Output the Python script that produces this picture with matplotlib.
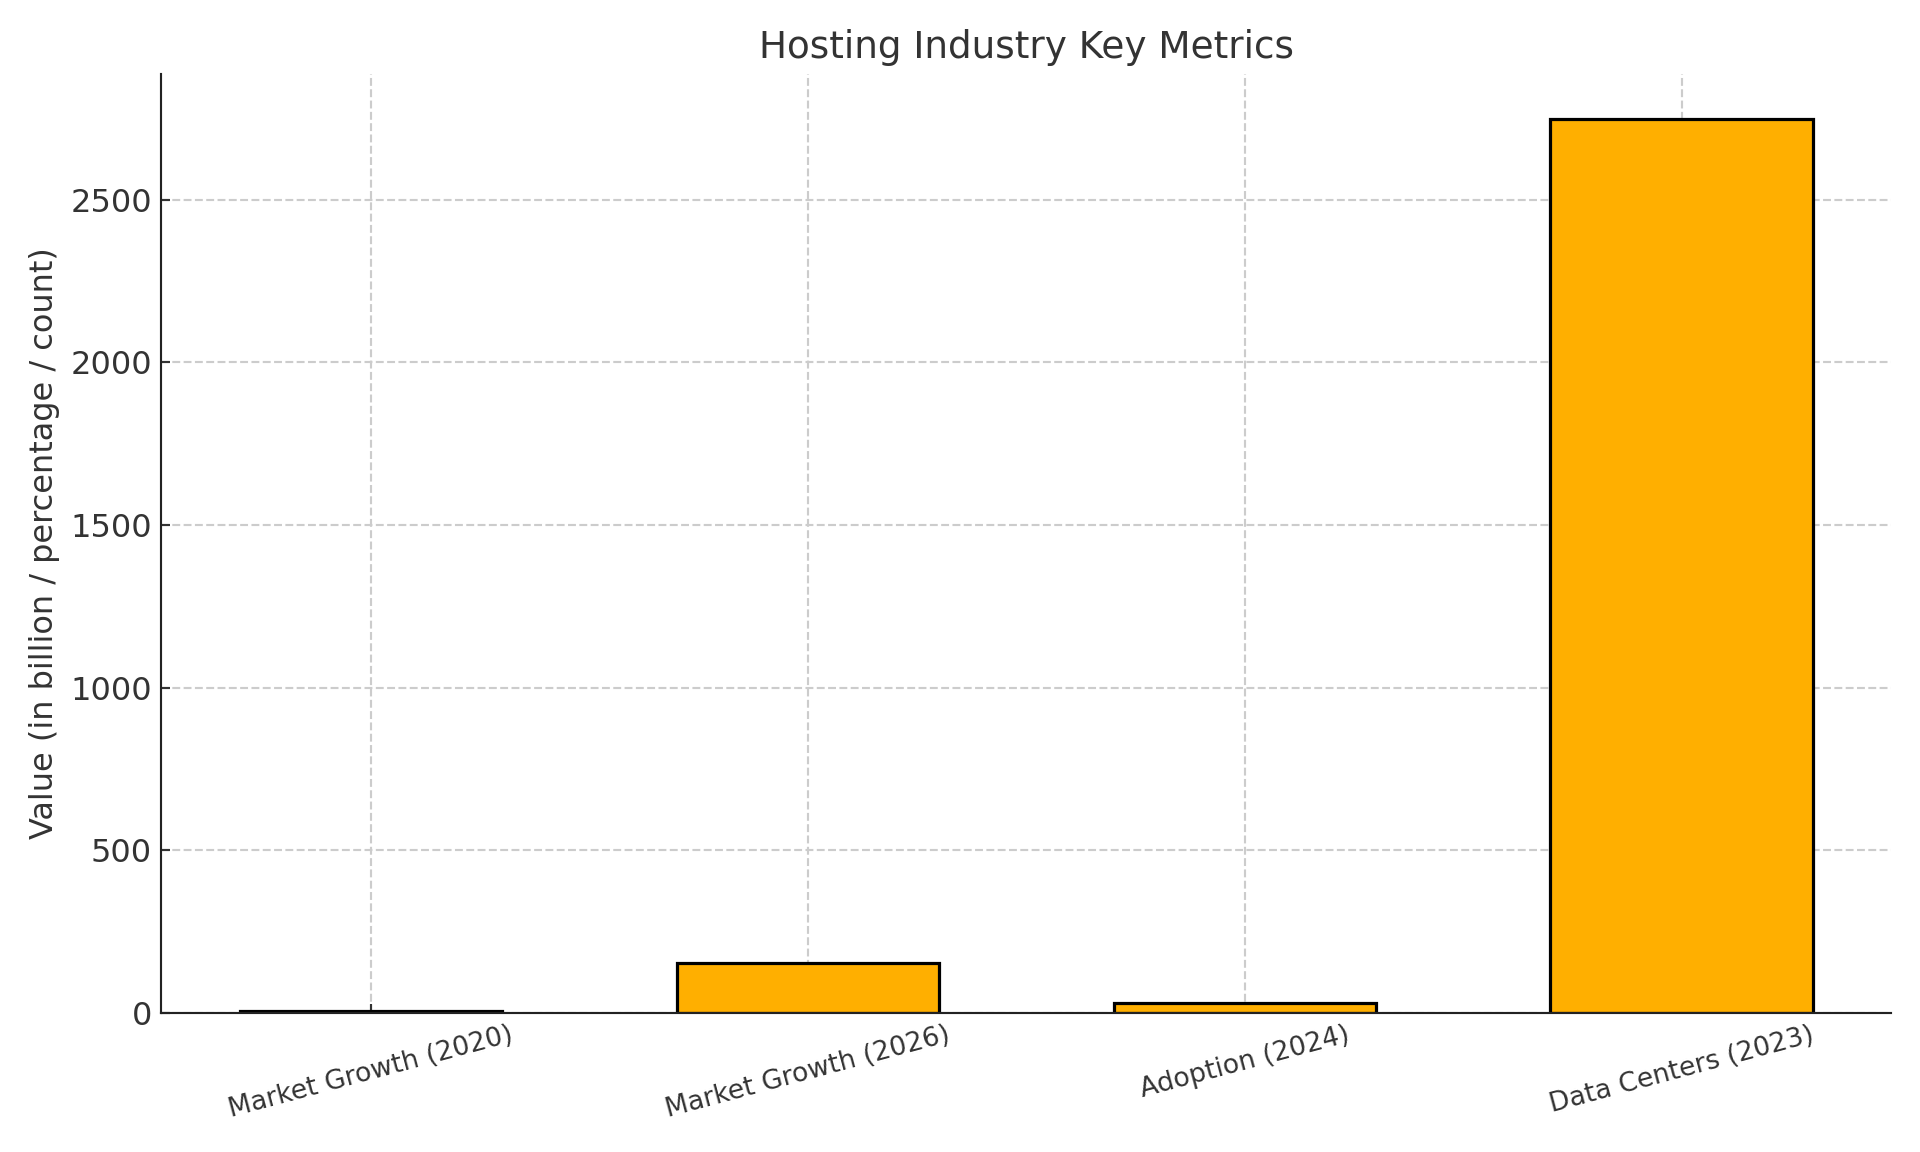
import matplotlib
matplotlib.use('Agg')
import matplotlib.pyplot as plt

categories = ['Market Growth (2020)', 'Market Growth (2026)', 'Adoption (2024)', 'Data Centers (2023)']
values = [5, 154, 30, 2750]

bar_color = '#FFAF00'
text_color = '#333333'

plt.rcParams['font.family'] = 'DejaVu Sans'

fig, ax = plt.subplots(figsize=(10, 6), dpi=192)
ax.bar(categories, values, width=0.6, color=bar_color, edgecolor='black', linewidth=1.2, zorder=2)

ax.set_title('Hosting Industry Key Metrics', fontsize=14, color=text_color)
ax.set_ylabel('Value (in billion / percentage / count)', fontsize=12, color=text_color)
ax.tick_params(axis='y', labelsize=12, colors=text_color, direction='in')
ax.tick_params(axis='x', labelsize=10, colors=text_color, direction='in')
plt.setp(ax.get_xticklabels(), rotation=15, ha='center')

ax.grid(True, linestyle='--', color='#cccccc', linewidth=0.8, zorder=0)
ax.spines['top'].set_visible(False)
ax.spines['right'].set_visible(False)
for s in ('left', 'bottom'):
    ax.spines[s].set_color('#222222')

plt.tight_layout()
plt.savefig('out.png')
